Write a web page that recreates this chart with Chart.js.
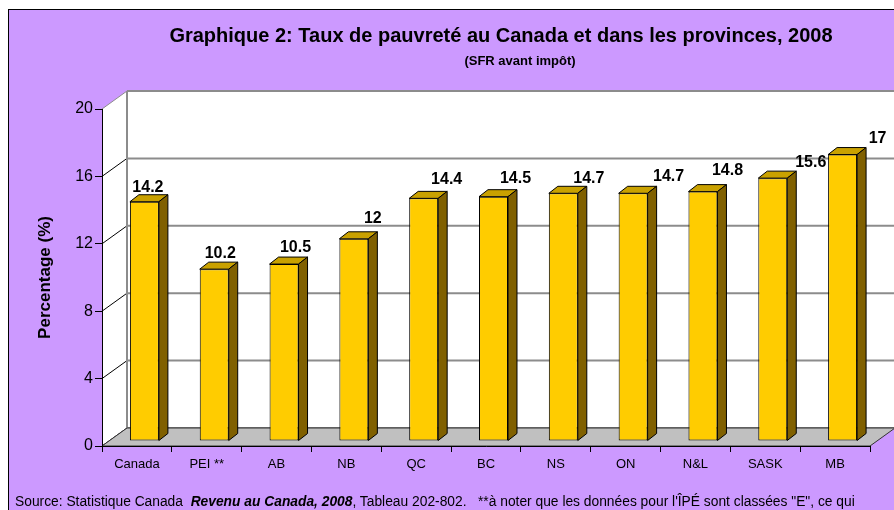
<!DOCTYPE html>
<html>
<head>
<meta charset="utf-8">
<script src="https://cdn.jsdelivr.net/npm/chart.js@4.4.1/dist/chart.umd.min.js"></script>
<style>
  html, body { margin: 0; padding: 0; background: #fff; width: 894px; height: 510px; overflow: hidden; }
  #cadre { position: absolute; left: 8px; top: 9px; width: 900px; height: 520px; background: #CC99FF; border: 1px solid #000; }
  #graphique { position: absolute; left: 0; top: 0; }
  #source { position: absolute; left: 15px; top: 494px; font: 13.8px "Liberation Sans", Arial, sans-serif; white-space: nowrap; color: #000; }
</style>
</head>
<body>
<div id="cadre"></div>
<canvas id="graphique" width="894" height="510"></canvas>
<div id="source">Source: Statistique Canada&nbsp;&nbsp;<b><i>Revenu au Canada, 2008</i></b>, Tableau 202-802.&nbsp;&nbsp;&nbsp;**à noter que les données pour l'ÎPÉ sont classées "E", ce qui</div>
<script>
// Données du graphique 2 (taux de pauvreté 2008, SFR avant impôt)
const provinces = ["Canada", "PEI **", "AB", "NB", "QC", "BC", "NS", "ON", "N&L", "SASK", "MB"];
const tauxPauvrete = [14.2, 10.2, 10.5, 12, 14.4, 14.5, 14.7, 14.7, 14.8, 15.6, 17];
const graduations = [0, 4, 8, 12, 16, 20];

// Décalage des étiquettes de valeur (placement un peu irrégulier comme dans Excel)
const decalageEtiquetteX = [3.5, 6, 11.5, 19, 23, 22, 25.5, 35.5, 24.5, 38, 35];
const decalageEtiquetteY = [-10, -11, -12, -16, -14, -14, -10, -12, -17, -11, -12];

// Effet 3D
const PROF_X = 25, PROF_Y = -18;   // profondeur du plancher
const BARRE_X = 7.5, BARRE_Y = -5; // position des barres dans la profondeur
const FACE_X = 9, FACE_Y = -7;     // épaisseur des barres

Chart.defaults.font.family = "'Liberation Sans', Arial, sans-serif";
Chart.defaults.color = "#000";

function ligne(ctx, x1, y1, x2, y2) {
  ctx.beginPath();
  ctx.moveTo(x1, y1);
  ctx.lineTo(x2, y2);
  ctx.stroke();
}

function polygone(ctx, pts) {
  ctx.beginPath();
  ctx.moveTo(pts[0][0], pts[0][1]);
  for (let i = 1; i < pts.length; i++) ctx.lineTo(pts[i][0], pts[i][1]);
  ctx.closePath();
  ctx.fill();
  ctx.stroke();
}

const effet3d = {
  id: "effet3d",
  // murs et plancher, avant les axes
  beforeDraw(chart) {
    const { ctx, chartArea: a, scales: { y } } = chart;
    ctx.save();
    ctx.fillStyle = "#fff";
    ctx.fillRect(a.left + PROF_X, a.top + PROF_Y, a.right - a.left, a.bottom - a.top);
    ctx.beginPath();
    ctx.moveTo(a.left, a.top);
    ctx.lineTo(a.left + PROF_X, a.top + PROF_Y);
    ctx.lineTo(a.left + PROF_X, a.bottom + PROF_Y);
    ctx.lineTo(a.left, a.bottom);
    ctx.closePath();
    ctx.fill();

    graduations.forEach((v) => {
      const py = y.getPixelForValue(v);
      ctx.strokeStyle = "#8c8c8c";
      ctx.lineWidth = 2;
      ligne(ctx, a.left + PROF_X, py + PROF_Y, a.right + PROF_X, py + PROF_Y);
      ctx.strokeStyle = v === 20 ? "#8c8c8c" : "#000";
      ctx.lineWidth = 1;
      ligne(ctx, a.left, py, a.left + PROF_X, py + PROF_Y);
    });
    ctx.strokeStyle = "#8c8c8c";
    ctx.lineWidth = 2;
    ligne(ctx, a.left + PROF_X, a.top + PROF_Y, a.left + PROF_X, a.bottom + PROF_Y);

    // plancher
    ctx.fillStyle = "#c0c0c0";
    ctx.strokeStyle = "#333";
    ctx.lineWidth = 1;
    polygone(ctx, [
      [a.left, a.bottom],
      [a.right, a.bottom],
      [a.right + PROF_X, a.bottom + PROF_Y],
      [a.left + PROF_X, a.bottom + PROF_Y],
    ]);
    ctx.restore();
  },
  beforeDatasetsDraw(chart) {
    chart.ctx.save();
    chart.ctx.translate(BARRE_X, BARRE_Y);
  },
  afterDatasetsDraw(chart) {
    const ctx = chart.ctx;
    const meta = chart.getDatasetMeta(0);
    ctx.strokeStyle = "#000";
    ctx.lineWidth = 1;
    meta.data.forEach((bar) => {
      const { x, y, base, width } = bar.getProps(["x", "y", "base", "width"], true);
      const g = x - width / 2, d = x + width / 2;
      ctx.fillStyle = "#C9A100";
      polygone(ctx, [[g, y], [g + FACE_X, y + FACE_Y], [d + FACE_X, y + FACE_Y], [d, y]]);
      ctx.fillStyle = "#806000";
      polygone(ctx, [[d, y], [d + FACE_X, y + FACE_Y], [d + FACE_X, base + FACE_Y], [d, base]]);
    });
    ctx.restore();

    // étiquettes de valeur
    ctx.save();
    ctx.font = "bold 16px 'Liberation Sans', Arial, sans-serif";
    ctx.fillStyle = "#000";
    ctx.textAlign = "center";
    ctx.textBaseline = "alphabetic";
    meta.data.forEach((bar, i) => {
      ctx.fillText(String(tauxPauvrete[i]), bar.x + BARRE_X + decalageEtiquetteX[i], bar.y + BARRE_Y + decalageEtiquetteY[i]);
    });
    ctx.restore();
  },
  afterDraw(chart) {
    const ctx = chart.ctx;
    ctx.save();
    ctx.fillStyle = "#000";
    ctx.textAlign = "center";
    ctx.font = "bold 20px 'Liberation Sans', Arial, sans-serif";
    ctx.fillText("Graphique 2: Taux de pauvreté au Canada et dans les provinces, 2008", 501, 42);
    ctx.font = "bold 13px 'Liberation Sans', Arial, sans-serif";
    ctx.fillText("(SFR avant impôt)", 520, 65);
    ctx.restore();
  },
};

new Chart(document.getElementById("graphique"), {
  type: "bar",
  data: {
    labels: provinces,
    datasets: [
      {
        label: "Taux de pauvreté",
        data: tauxPauvrete,
        backgroundColor: "#FFCC00",
        borderColor: "#000",
        borderWidth: 1,
        borderSkipped: false,
        barPercentage: 0.415,
        categoryPercentage: 1,
        clip: false,
      },
    ],
  },
  options: {
    responsive: false,
    animation: false,
    devicePixelRatio: 1,
    layout: { padding: { left: 0, right: 24, top: 109, bottom: 0 } },
    plugins: {
      legend: { display: false },
      tooltip: { enabled: false },
    },
    scales: {
      x: {
        afterFit: (s) => { s.height = 64; },
        grid: { drawOnChartArea: false, color: "#000", tickLength: 6 },
        border: { color: "#000" },
        ticks: { padding: 5, font: { size: 13 } },
      },
      y: {
        min: 0,
        max: 20,
        afterFit: (s) => { s.width = 102; },
        afterBuildTicks: (s) => { s.ticks = graduations.map((v) => ({ value: v })); },
        grid: { drawOnChartArea: false, color: "#000", tickLength: 7 },
        border: { color: "#000" },
        ticks: { padding: 2, font: { size: 16 } },
        title: {
          display: true,
          text: "Percentage (%)",
          font: { size: 17, weight: "bold" },
          padding: { top: 35, bottom: 0 },
        },
      },
    },
  },
  plugins: [effet3d],
});
</script>
</body>
</html>
